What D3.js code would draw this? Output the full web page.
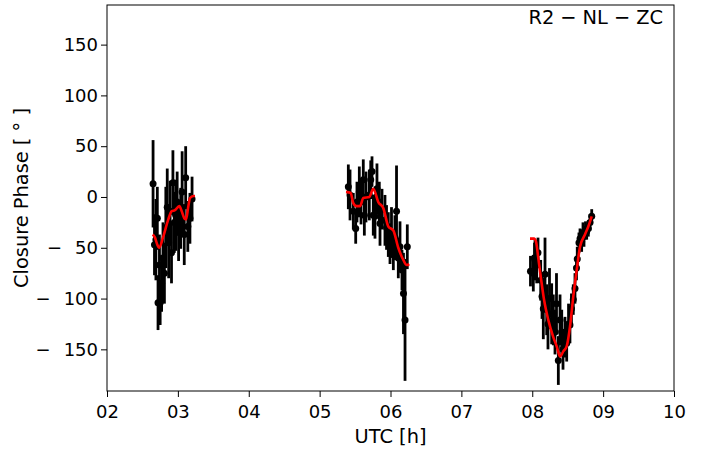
<!DOCTYPE html>
<html>
<head>
<meta charset="utf-8">
<script src="https://cdn.jsdelivr.net/npm/d3@7"></script>
<style>
  body { margin: 0; background: #fff; }
  svg { display: block; font-family: "DejaVu Sans", sans-serif; }
</style>
</head>
<body>
<script>
// scan 1 (around 03 UTC)
var scan1Time  = [2.65, 2.67, 2.69, 2.71, 2.72, 2.74, 2.75, 2.77, 2.79, 2.81, 2.83, 2.85, 2.87, 2.89, 2.91, 2.93, 2.95, 2.97, 2.99, 3.01, 3.04, 3.06, 3.09, 3.11, 3.14, 3.17, 3.20];
var scan1Phase = [13, -47, -42, -21, -104, -67, -104, -85, -60, -75, -30, -10, -45, -14, -55, 14, -25, -18, -5, -35, -21, 5, -37, 19, -29, -21, -2];
var scan1Err   = [43, 30, 40, 31, 27, 30, 22, 28, 35, 30, 40, 38, 35, 30, 30, 32, 30, 35, 30, 28, 30, 40, 30, 31, 25, 25, 22];

// scan 2 (around 06 UTC)
var scan2Time  = [5.405, 5.429, 5.475, 5.509, 5.527, 5.560, 5.584, 5.616, 5.631, 5.654, 5.701, 5.721, 5.739, 5.757, 5.781, 5.809, 5.842, 5.852, 5.880, 5.922, 5.944, 5.969, 5.993, 6.014, 6.040, 6.063, 6.085, 6.110, 6.134, 6.162, 6.183, 6.205, 6.237];
var scan2Phase = [10, 2, -14, -31, -5, 5, -5, 17, -18, 0, 2, 17, 25, -18, -19, 8, -5, -26, -12, -23, -30, -37, -46, -35, -52, -40, -14, -60, -49, -72, -95, -121, -49];
var scan2Err   = [22, 25, 18, 15, 20, 25, 22, 20, 20, 25, 25, 19, 15, 20, 22, 25, 20, 22, 20, 25, 22, 22, 20, 25, 20, 22, 45, 20, 25, 20, 40, 60, 22];

// scan 3 (around 08 UTC)
var scan3Time  = [7.975, 8.015, 8.032, 8.039, 8.063, 8.081, 8.119, 8.138, 8.156, 8.180, 8.204, 8.222, 8.243, 8.274, 8.297, 8.321, 8.342, 8.368, 8.392, 8.416, 8.434, 8.462, 8.486, 8.512, 8.532, 8.553, 8.579, 8.603, 8.624, 8.635, 8.659, 8.674, 8.697, 8.716, 8.730, 8.751, 8.768, 8.791, 8.815, 8.839];
var scan3Phase = [-73, -75, -60, -62, -67, -55, -82, -98, -110, -76, -111, -125, -100, -115, -121, -133, -105, -161, -121, -133, -150, -138, -144, -125, -126, -110, -101, -90, -70, -61, -45, -41, -44, -35, -39, -32, -34, -31, -25, -19];
var scan3Err   = [15, 18, 15, 20, 18, 15, 20, 22, 30, 36, 25, 25, 30, 30, 25, 22, 30, 24, 25, 22, 20, 20, 18, 20, 18, 15, 15, 15, 12, 12, 10, 10, 10, 10, 10, 8, 8, 8, 8, 7];

// model curve (red)
var model1Time  = [2.645, 2.677, 2.710, 2.734, 2.794, 2.865, 2.913, 2.959, 3.020, 3.054, 3.091, 3.115, 3.148, 3.171, 3.218, 3.242];
var model1Phase = [-37, -40, -47, -50, -39, -22, -14, -13, -9, -14, -21, -22, -9, -1, 1, 1];
var model2Time  = [5.372, 5.438, 5.475, 5.520, 5.570, 5.616, 5.701, 5.757, 5.828, 5.899, 5.969, 6.040, 6.110, 6.181, 6.229, 6.265];
var model2Phase = [5, 4, -6, -9, -9, -1, 0, 8, -5, -11, -29, -33, -50, -62, -67, -66];
var model3Time  = [7.968, 8.025, 8.053, 8.085, 8.119, 8.166, 8.226, 8.297, 8.345, 8.392, 8.438, 8.486, 8.532, 8.579, 8.627, 8.674, 8.744, 8.791, 8.839];
var model3Phase = [-41, -41, -44, -60, -78, -101, -121, -138, -147, -157, -152, -147, -128, -98, -72, -49, -37, -29, -19];

var xTicks = [2, 3, 4, 5, 6, 7, 8, 9, 10];
var yTicks = [-150, -100, -50, 0, 50, 100, 150];

var W = 713, H = 453;
var margin = { top: 5, right: 39, bottom: 62, left: 107 };
var width = W - margin.left - margin.right,
    height = H - margin.top - margin.bottom;

var svg = d3.select("body").append("svg")
    .attr("width", W)
    .attr("height", H);

var g = svg.append("g")
    .attr("transform", "translate(" + margin.left + "," + margin.top + ")");

var x = d3.scaleLinear().domain([2, 10]).range([0, width]);
var y = d3.scaleLinear().domain([-191, 189]).range([height, 0]);

// axes
var xAxis = g.append("g")
    .attr("transform", "translate(0," + height + ")")
    .call(d3.axisBottom(x).tickValues(xTicks).tickSize(6).tickPadding(8)
        .tickFormat(function(d) { return d < 10 ? "0" + d : "" + d; }));
var yAxis = g.append("g")
    .call(d3.axisLeft(y).tickValues(yTicks).tickSize(6).tickPadding(3)
        .tickFormat(function(d) { return Math.abs(d); }));

// negative labels: minus sign set apart like the math-text ticks
yAxis.selectAll(".tick text").each(function(d) {
    if (d < 0) {
        var t = d3.select(this);
        var num = t.text();
        t.text("");
        t.append("tspan").text("\u2212");
        t.append("tspan").attr("dx", 13).text(num);
    }
});

[xAxis, yAxis].forEach(function(a) {
    a.select(".domain").remove();
    a.selectAll("text").attr("font-size", 18).attr("font-family", "DejaVu Sans").attr("fill", "#000");
    a.selectAll("line").attr("stroke", "#000");
});

// frame
g.append("rect")
    .attr("width", width)
    .attr("height", height)
    .attr("fill", "none")
    .attr("stroke", "#000")
    .attr("stroke-width", 1);

// points with error bars
var scans = [
    { t: scan1Time, p: scan1Phase, e: scan1Err },
    { t: scan2Time, p: scan2Phase, e: scan2Err },
    { t: scan3Time, p: scan3Phase, e: scan3Err }
];
scans.forEach(function(s) {
    var pts = s.t.map(function(t, i) { return { t: t, p: s.p[i], e: s.e[i] }; });
    g.append("g").selectAll("line")
        .data(pts).enter().append("line")
        .attr("x1", function(d) { return x(d.t); })
        .attr("x2", function(d) { return x(d.t); })
        .attr("y1", function(d) { return y(d.p - d.e); })
        .attr("y2", function(d) { return y(d.p + d.e); })
        .attr("stroke", "#000")
        .attr("stroke-width", 2.8);
    g.append("g").selectAll("circle")
        .data(pts).enter().append("circle")
        .attr("cx", function(d) { return x(d.t); })
        .attr("cy", function(d) { return y(d.p); })
        .attr("r", 3.5)
        .attr("fill", "#000");
});

// model lines
var line = d3.line()
    .x(function(d) { return x(d[0]); })
    .y(function(d) { return y(d[1]); })
    .curve(d3.curveMonotoneX);
[[model1Time, model1Phase], [model2Time, model2Phase], [model3Time, model3Phase]].forEach(function(m) {
    g.append("path")
        .datum(m[0].map(function(t, i) { return [t, m[1][i]]; }))
        .attr("d", line)
        .attr("fill", "none")
        .attr("stroke", "red")
        .attr("stroke-width", 2.6);
});

// labels
svg.append("text")
    .attr("x", margin.left + width / 2)
    .attr("y", 443)
    .attr("text-anchor", "middle")
    .attr("font-size", 19.4)
    .text("UTC [h]");

svg.append("text")
    .attr("transform", "translate(28," + (margin.top + height / 2) + ") rotate(-90)")
    .attr("text-anchor", "middle")
    .attr("font-size", 19.4)
    .text("Closure Phase [ \u00b0 ]");

// baseline label, with wider gaps around the minus signs
var note = svg.append("text")
    .attr("x", 663)
    .attr("y", 24)
    .attr("text-anchor", "end")
    .attr("font-size", 19.4);
note.append("tspan").text("R2");
note.append("tspan").attr("dx", 6).text("\u2212");
note.append("tspan").attr("dx", 6).text("NL");
note.append("tspan").attr("dx", 6).text("\u2212");
note.append("tspan").attr("dx", 6).text("ZC");
</script>
</body>
</html>
